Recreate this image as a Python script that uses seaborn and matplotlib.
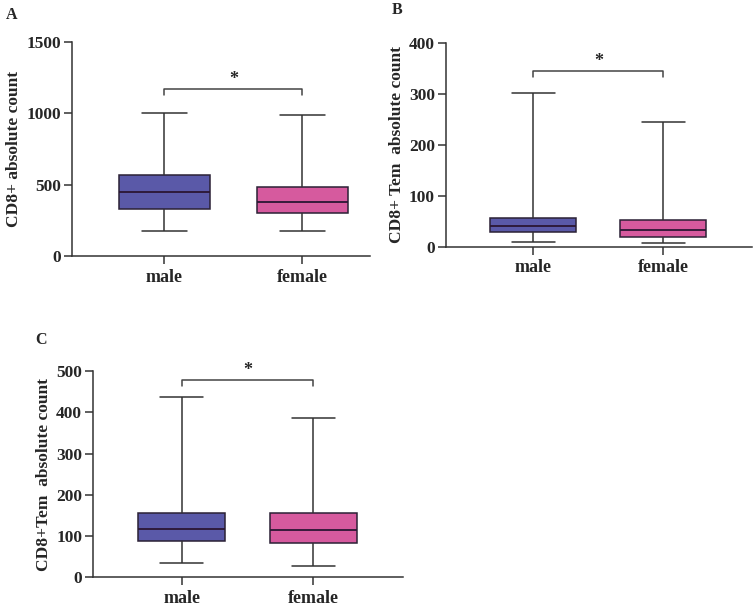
import numpy as np
import pandas as pd
import matplotlib
matplotlib.use("Agg")
import matplotlib.pyplot as plt
import seaborn as sns

sns.set_style("ticks")
plt.rcParams['font.family'] = ['Liberation Serif', 'DejaVu Serif']
plt.rcParams['font.weight'] = 'bold'

groups = ["male", "female"]
colors = ["#5a59a8", "#d65a9e"]

# five-number summaries: min, q1, median, q3, max
a_male = [173, 332, 446, 568, 1000]
a_female = [173, 304, 381, 481, 988]
b_male = [9, 28, 41, 56, 302]
b_female = [7, 20, 33, 52, 246]
c_male = [34, 88, 116, 157, 437]
c_female = [28, 84, 114, 155, 387]

panels = [
    dict(letter="A", male=a_male, female=a_female, ylabel="CD8+ absolute count",
         ymax=1500, yticks=[0, 500, 1000, 1500], bracket=1173,
         rect=[0.0954, 0.578, 0.3946, 0.353], xlim=(-0.67, 1.49), lpos=(0.008, 0.988)),
    dict(letter="B", male=b_male, female=b_female, ylabel="CD8+ Tem  absolute count",
         ymax=400, yticks=[0, 100, 200, 300, 400], bracket=346,
         rect=[0.5907, 0.5936, 0.4053, 0.3351], xlim=(-0.67, 1.68), lpos=(0.519, 0.996)),
    dict(letter="C", male=c_male, female=c_female, ylabel="CD8+Tem  absolute count",
         ymax=500, yticks=[0, 100, 200, 300, 400, 500], bracket=478,
         rect=[0.1236, 0.0489, 0.4102, 0.3399], xlim=(-0.67, 1.68), lpos=(0.047, 0.453)),
]

fig = plt.figure(figsize=(7.55, 6.07), dpi=100)

for p in panels:
    ax = fig.add_axes(p["rect"])
    df = pd.DataFrame({
        "sex": ["male"] * 5 + ["female"] * 5,
        "value": p["male"] + p["female"],
    })
    sns.boxplot(data=df, x="sex", y="value", hue="sex", order=groups,
                palette=colors, saturation=1, whis=np.inf, width=0.66, linewidth=1.1,
                linecolor="#2b2135", legend=False, ax=ax,
                medianprops=dict(color="#2b1633", linewidth=1.3),
                whiskerprops=dict(color="#333333"), capprops=dict(color="#333333"))
    ax.set_ylim(0, p["ymax"])
    ax.set_xlim(*p["xlim"])
    ax.set_yticks(p["yticks"])
    ax.set_xlabel("")
    ax.set_ylabel(p["ylabel"], fontsize=12.5, fontweight="bold", labelpad=3)
    ax.tick_params(axis="both", length=6, width=1.1, color="#333333", labelsize=12.5, pad=2)
    ax.tick_params(axis="x", pad=3, labelsize=13)
    for lab in ax.get_xticklabels() + ax.get_yticklabels():
        lab.set_fontweight("bold")
    sns.despine(ax=ax)
    for s in ["left", "bottom"]:
        ax.spines[s].set_color("#333333")
        ax.spines[s].set_linewidth(1.1)

    # significance bracket
    y = p["bracket"]
    d = p["ymax"] * 0.03
    ax.plot([0, 0, 1, 1], [y - d, y, y, y - d], color="#444444", linewidth=1.1, clip_on=False)
    ax.text(0.5, y + p["ymax"] * 0.005, "*", ha="center", va="bottom",
            fontsize=13, fontweight="bold")

    fig.text(p["lpos"][0], p["lpos"][1], p["letter"], fontsize=11.5,
             fontweight="bold", ha="left", va="top")

plt.savefig("out.png", dpi=100, facecolor="white")
